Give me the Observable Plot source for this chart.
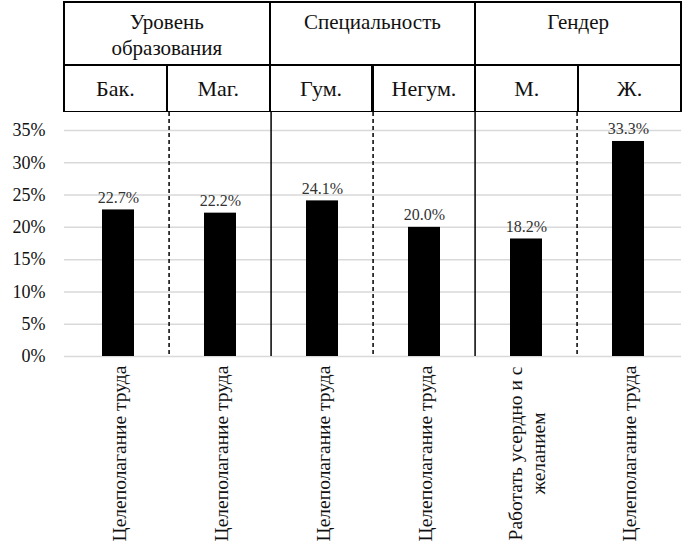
<!DOCTYPE html>
<html><head><meta charset="utf-8">
<script src="https://cdn.jsdelivr.net/npm/d3@7"></script>
<script src="https://cdn.jsdelivr.net/npm/@observablehq/plot@0.6"></script>
<style>
body{margin:0;background:#fff;}
#wrap{position:relative;width:698px;height:557px;overflow:hidden;}
.cell{position:absolute;box-sizing:border-box;border:2px solid #000;text-align:center;color:#111;white-space:pre-line;}
.g{font-size:21px;line-height:26px;padding-top:6px;}
.s{font-size:22px;display:flex;align-items:center;justify-content:center;}
#chart{position:absolute;left:0;top:112px;}
</style></head><body>
<div id="wrap"><div id="hdr"></div><div id="chart"></div></div>
<script>
const groups = ["Уровень\nобразования", "Специальность", "Гендер"];
const categories = ["Бак.", "Маг.", "Гум.", "Негум.", "М.", "Ж."];
const categoryGroup = [0, 0, 1, 1, 2, 2];
const values = [22.7, 22.2, 24.1, 20.0, 18.2, 33.3];
const xLabels = ["Целеполагание труда", "Целеполагание труда", "Целеполагание труда", "Целеполагание труда", "Работать усердно и с\nжеланием", "Целеполагание труда"];
const yTicks = [0, 5, 10, 15, 20, 25, 30, 35];

const data = categories.map((c, i) => ({cat: c, value: values[i], label: xLabels[i], group: categoryGroup[i]}));
const dividers = categories.slice(1).map((c, k) => ({cat: c, sameGroup: categoryGroup[k] === categoryGroup[k + 1]}));

const W = 698, H = 445, mL = 64, mR = 17;
const step = (W - mL - mR) / categories.length;
const FONT = "'Liberation Serif', serif";
const setFont = el => el.style.setProperty("font-family", FONT, "important");

// header table
const hdr = document.getElementById("hdr");
groups.forEach((g, gi) => {
  const n = categoryGroup.filter(v => v === gi).length;
  const start = categoryGroup.indexOf(gi);
  const d = document.createElement("div");
  d.className = "cell g";
  d.style.left = (mL + start * step - 1) + "px";
  d.style.width = (n * step + 2) + "px";
  d.style.top = "1px";
  d.style.height = "65px";
  d.textContent = g;
  setFont(d);
  hdr.appendChild(d);
});
categories.forEach((c, i) => {
  const d = document.createElement("div");
  d.className = "cell s";
  d.style.left = (mL + i * step - 1) + "px";
  d.style.width = (step + 2) + "px";
  d.style.top = "64px";
  d.style.height = "49px";
  d.textContent = c;
  setFont(d);
  hdr.appendChild(d);
});

const chart = Plot.plot({
  width: W, height: H, marginLeft: mL, marginRight: mR, marginTop: 0, marginBottom: 201,
  style: {background: "#fff", overflow: "visible"},
  x: {domain: categories, padding: 0, axis: null},
  y: {domain: [0, 35], range: [244, 18], axis: null},
  marks: [
    Plot.gridY(yTicks, {stroke: "#d9d9d9", strokeOpacity: 1, strokeWidth: 1.5}),
    Plot.axisY(yTicks, {tickSize: 0, tickPadding: 19, tickFormat: d => d + "%", fontSize: 18, fill: "#111", label: null}),
    Plot.ruleX(dividers.filter(d => d.sameGroup), {x: "cat", dx: -step / 2, stroke: "#000", strokeWidth: 1.5, strokeDasharray: "4,3"}),
    Plot.ruleX(dividers.filter(d => !d.sameGroup), {x: "cat", dx: -step / 2, stroke: "#000", strokeWidth: 1.5}),
    Plot.barY(data, {x: "cat", y: "value", fill: "#000", insetLeft: 35, insetRight: 35}),
    Plot.text(data, {x: "cat", y: "value", text: d => d.value.toFixed(1) + "%", dy: -7, lineAnchor: "bottom", fontSize: 16, fill: "#333"}),
    Plot.text(data, {x: "cat", text: "label", frameAnchor: "bottom", dy: 97, rotate: -90, textAnchor: "middle", lineAnchor: "middle", lineHeight: 1.15, fontSize: 19.5, fill: "#111"})
  ]
});
setFont(chart);
chart.querySelectorAll("text, tspan").forEach(setFont);
document.getElementById("chart").appendChild(chart);
</script>
</body></html>
